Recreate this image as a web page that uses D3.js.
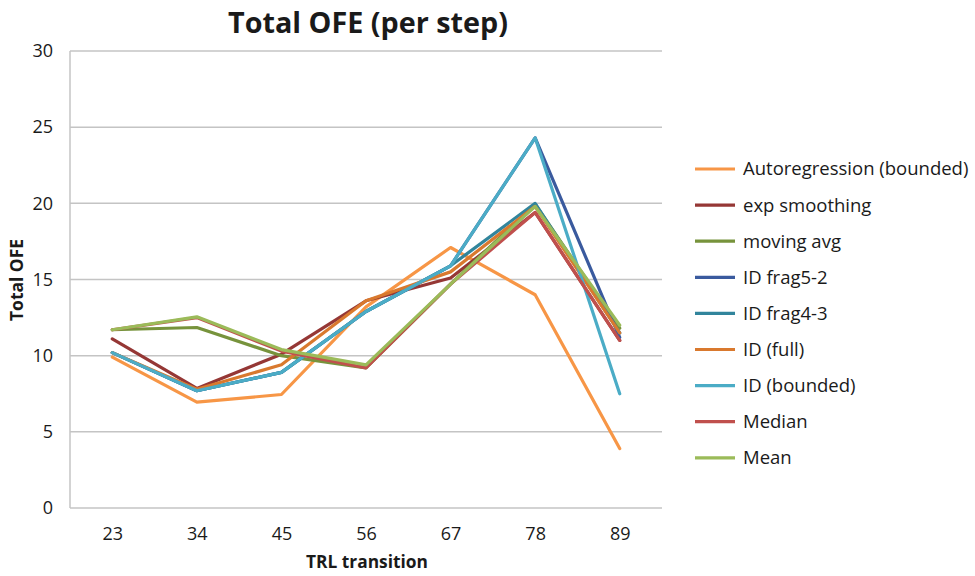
<!DOCTYPE html>
<html><head><meta charset="utf-8">
<script src="https://cdn.jsdelivr.net/npm/d3@7"></script>
<style>body{margin:0;background:#fff}text{font-family:"Open Sans",Lato,sans-serif;fill:#1a1a1a}</style>
</head><body><svg id="c" width="975" height="576"></svg>
<script>
const categories = ["23","34","45","56","67","78","89"];
const seriesNames = ["Autoregression (bounded)","exp smoothing","moving avg","ID frag5-2","ID frag4-3","ID (full)","ID (bounded)","Median","Mean"];
const autoregression = [9.9, 6.95, 7.45, 13.2, 17.1, 14.0, 3.9];
const expSmoothing   = [11.1, 7.85, 10.1, 13.6, 15.1, 19.4, 11.0];
const movingAvg      = [11.7, 11.85, 10.0, 9.2, 14.7, 19.95, 11.8];
const idFrag52       = [10.2, 7.7, 8.9, 12.9, 15.9, 24.3, 11.2];
const idFrag43       = [10.2, 7.7, 8.9, 12.9, 15.9, 20.0, 11.5];
const idFull         = [10.2, 7.8, 9.4, 13.6, 15.5, 19.8, 11.5];
const idBounded      = [10.2, 7.7, 8.9, 12.9, 15.9, 24.3, 7.5];
const median         = [11.7, 12.5, 10.3, 9.2, 14.7, 19.4, 11.0];
const mean           = [11.7, 12.55, 10.4, 9.4, 14.7, 19.8, 12.0];
const yTicks = [0,5,10,15,20,25,30];
const colors = ["#F79646","#953735","#77933C","#3A5A9E","#31859C","#D9792E","#4BACC6","#C0504D","#9BBB59"];
const allSeries = [autoregression, expSmoothing, movingAvg, idFrag52, idFrag43, idFull, idBounded, median, mean];

(function(){
const svg = d3.select("#c");
const pL = 70, pR = 662, pT = 51, pB = 508;
const x = d3.scalePoint().domain(categories).range([pL, pR]).padding(0.5);
const y = d3.scaleLinear().domain([0,30]).range([pB, pT]);

svg.append("g").selectAll("line").data(yTicks).join("line")
  .attr("x1", pL).attr("x2", pR)
  .attr("y1", d=>y(d)).attr("y2", d=>y(d))
  .attr("stroke", "#c4c4c4").attr("stroke-width", 1.5);
svg.append("line").attr("x1",pL).attr("x2",pL).attr("y1",pT).attr("y2",pB).attr("stroke","#c4c4c4").attr("stroke-width",1.5);
const yAxis = d3.axisLeft(y).tickValues(yTicks).tickSize(0).tickPadding(17);
const ya = svg.append("g").attr("transform",`translate(${pL},0)`).call(yAxis);
ya.select(".domain").remove();
ya.selectAll("text").attr("font-size",18).attr("font-family",'"Open Sans",sans-serif').attr("fill","#1a1a1a");
const xAxis = d3.axisBottom(x).tickSize(0).tickPadding(19);
const xa = svg.append("g").attr("transform",`translate(0,${pB})`).call(xAxis);
xa.select(".domain").remove();
xa.selectAll("text").attr("font-size",18).attr("font-family",'"Open Sans",sans-serif').attr("fill","#1a1a1a");

const line = d3.line().x((d,i)=>x(categories[i])).y(d=>y(d));
svg.append("g").selectAll("path").data(allSeries).join("path")
  .attr("d", d=>line(d)).attr("fill","none")
  .attr("stroke",(d,i)=>colors[i]).attr("stroke-width",3.2)
  .attr("stroke-linejoin","round").attr("stroke-linecap","round");

svg.append("text").attr("x",368).attr("y",33).attr("text-anchor","middle")
  .attr("font-size",29).attr("font-weight","bold").attr("textLength",280).attr("lengthAdjust","spacingAndGlyphs").text("Total OFE (per step)");
svg.append("text").attr("x",367).attr("y",568).attr("text-anchor","middle")
  .attr("font-size",17).attr("font-weight","bold").attr("textLength",122).attr("lengthAdjust","spacingAndGlyphs").text("TRL transition");
svg.append("text").attr("transform","translate(23,280) rotate(-90)").attr("text-anchor","middle")
  .attr("font-size",17).attr("font-weight","bold").attr("textLength",82).attr("lengthAdjust","spacingAndGlyphs").text("Total OFE");

const lg = svg.append("g").selectAll("g").data(seriesNames).join("g")
  .attr("transform",(d,i)=>`translate(695,${169 + i*36.1})`);
lg.append("line").attr("x1",0).attr("x2",40).attr("stroke",(d,i)=>colors[i]).attr("stroke-width",3.2);
lg.append("text").attr("x",48).attr("dy","0.35em").attr("font-size",18.5).text(d=>d);
})();
</script></body></html>
